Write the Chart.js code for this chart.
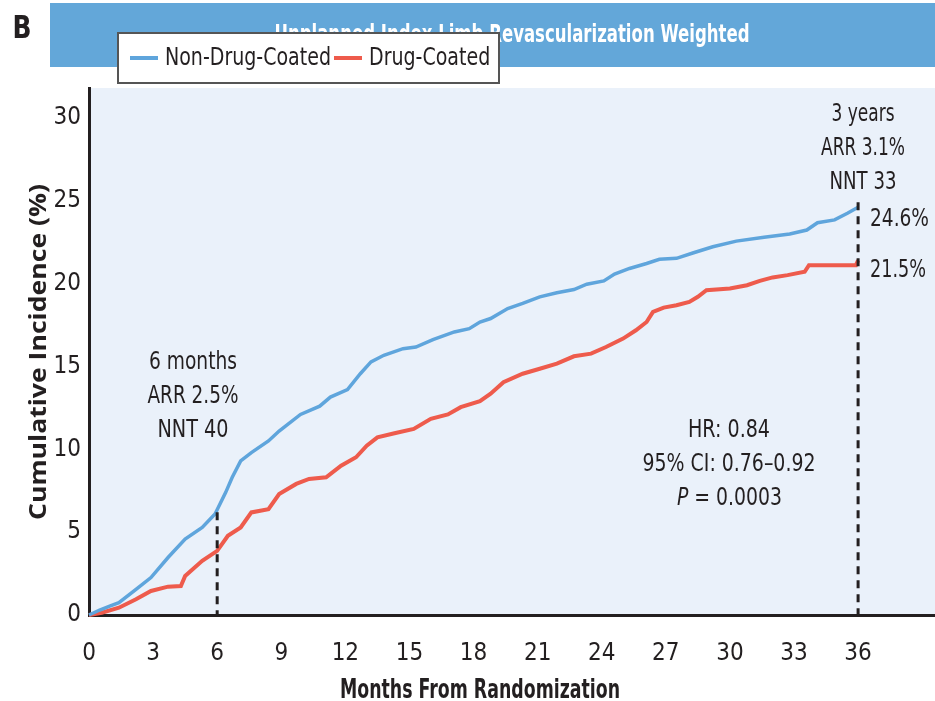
<!DOCTYPE html>
<html>
<head>
<meta charset="utf-8">
<script src="https://cdn.jsdelivr.net/npm/chart.js@4.4.1/dist/chart.umd.min.js"></script>
<style>
  body { margin: 0; background: #fff; }
</style>
</head>
<body>
<canvas id="km" width="935" height="701"></canvas>
<script>
const FONT = '"DejaVu Sans Condensed", "Liberation Sans Narrow", sans-serif';
const WIDE = '"Open Sans", "DejaVu Sans", sans-serif';

const xTicks = [0, 3, 6, 9, 12, 15, 18, 21, 24, 27, 30, 33, 36];
const yTicks = [0, 5, 10, 15, 20, 25, 30];

const seriesLabels = ["Non-Drug-Coated", "Drug-Coated"];

const nonDcMonths = [0, 0.5, 1, 1.4, 2.2, 2.9, 3.7, 4.5, 5.3, 5.9, 6.4, 6.7, 7.1, 7.6, 8.4, 8.9, 9.9, 10.8, 11.3, 12.1, 12.7, 13.2, 13.8, 14.7, 15.3, 16.1, 17.1, 17.8, 18.3, 18.8, 19.6, 20.3, 21.1, 21.9, 22.7, 23.3, 24.1, 24.6, 25.3, 26.1, 26.7, 27.5, 28.3, 29.2, 30.3, 31.6, 32.8, 33.6, 34.1, 34.9, 35.5, 36];
const nonDcPct = [0, 0.3, 0.55, 0.74, 1.55, 2.26, 3.47, 4.58, 5.28, 6.09, 7.4, 8.3, 9.3, 9.8, 10.5, 11.1, 12.1, 12.6, 13.15, 13.6, 14.56, 15.27, 15.67, 16.07, 16.17, 16.62, 17.08, 17.28, 17.68, 17.89, 18.49, 18.8, 19.2, 19.44, 19.64, 19.96, 20.16, 20.57, 20.91, 21.21, 21.46, 21.52, 21.86, 22.22, 22.56, 22.79, 22.99, 23.23, 23.67, 23.84, 24.24, 24.6];

const dcMonths = [0, 0.6, 1.4, 2.2, 2.9, 3.7, 4.3, 4.5, 5.3, 6.0, 6.5, 7.1, 7.6, 8.4, 8.9, 9.7, 10.3, 11.1, 11.8, 12.5, 13.0, 13.5, 14.3, 15.2, 16.0, 16.8, 17.4, 18.3, 18.8, 19.4, 20.3, 21.1, 21.9, 22.7, 23.5, 24.2, 25.0, 25.6, 26.1, 26.4, 26.9, 27.5, 28.1, 28.5, 28.9, 30.0, 30.8, 31.4, 32.0, 32.7, 33.5, 33.7, 35.9, 36];
const dcPct = [0, 0.14, 0.44, 0.95, 1.45, 1.71, 1.75, 2.36, 3.27, 3.87, 4.78, 5.28, 6.19, 6.39, 7.3, 7.91, 8.21, 8.31, 9.01, 9.52, 10.22, 10.72, 10.97, 11.23, 11.84, 12.1, 12.54, 12.9, 13.35, 14.05, 14.56, 14.86, 15.17, 15.61, 15.77, 16.17, 16.68, 17.18, 17.68, 18.29, 18.55, 18.69, 18.89, 19.2, 19.6, 19.7, 19.9, 20.16, 20.37, 20.51, 20.71, 21.11, 21.11, 21.4];

const BLUE = "#5fa5dc";
const RED = "#ee5b4c";
const INK = "#231f20";

const toPoints = (xs, ys) => xs.map((x, i) => ({ x: x, y: ys[i] }));

// squeeze text horizontally to a given width (the original uses a condensed face)
function fitText(ctx, text, x, y, font, width, align) {
  ctx.font = font;
  const s = width / ctx.measureText(text).width;
  ctx.save();
  ctx.translate(x, y);
  ctx.scale(s, 1);
  ctx.textAlign = align || "center";
  ctx.fillText(text, 0, 0);
  ctx.restore();
}

const decor = {
  id: "decor",
  beforeDraw(chart) {
    const { ctx, chartArea: a } = chart;
    ctx.save();
    ctx.fillStyle = "#eaf1fa";
    ctx.fillRect(a.left, a.top, a.right - a.left, a.bottom - a.top);
    ctx.restore();
  },
  afterDraw(chart) {
    const { ctx, scales } = chart;
    const x = scales.x, y = scales.y;
    ctx.save();
    ctx.textBaseline = "alphabetic";

    // dashed lines at 6 months and 3 years
    ctx.strokeStyle = INK;
    ctx.lineWidth = 3;
    ctx.setLineDash([8, 6]);
    const x6 = x.getPixelForValue(6);
    ctx.beginPath();
    ctx.moveTo(x6, y.getPixelForValue(6.2));
    ctx.lineTo(x6, y.getPixelForValue(0));
    ctx.stroke();
    const x36 = x.getPixelForValue(36);
    ctx.beginPath();
    ctx.moveTo(x36, y.getPixelForValue(24.9));
    ctx.lineTo(x36, y.getPixelForValue(0));
    ctx.stroke();
    ctx.setLineDash([]);

    // header band
    ctx.fillStyle = "#63a7d9";
    ctx.fillRect(50, 3, 885, 64);
    ctx.fillStyle = "#fff";
    fitText(ctx, "Unplanned Index Limb Revascularization Weighted", 512, 42, "bold 25px " + FONT, 475);

    // legend
    ctx.fillStyle = "#fff";
    ctx.fillRect(118, 33, 381, 50);
    ctx.strokeStyle = "#555";
    ctx.lineWidth = 2;
    ctx.strokeRect(118, 33, 381, 50);
    ctx.font = "24px " + FONT;
    const ls = 166 / ctx.measureText(chart.data.datasets[0].label).width;
    let lx = 130;
    chart.data.datasets.forEach((ds) => {
      ctx.strokeStyle = ds.borderColor;
      ctx.lineWidth = 4;
      ctx.beginPath();
      ctx.moveTo(lx, 58);
      ctx.lineTo(lx + 28, 58);
      ctx.stroke();
      ctx.fillStyle = INK;
      ctx.font = "24px " + FONT;
      const w = ctx.measureText(ds.label).width * ls;
      fitText(ctx, ds.label, lx + 35, 65, "24px " + FONT, w, "left");
      lx += 35 + w + 3;
    });

    // panel letter
    ctx.fillStyle = INK;
    fitText(ctx, "B", 22, 38, "bold 32px " + FONT, 19);

    // axis titles
    fitText(ctx, "Months From Randomization", 480, 698, "bold 26px " + FONT, 280);
    ctx.save();
    ctx.translate(46, 352);
    ctx.rotate(-Math.PI / 2);
    fitText(ctx, "Cumulative Incidence (%)", 0, 0, "bold 24px " + WIDE, 336);
    ctx.restore();

    // annotations
    const F = "25px " + FONT;
    fitText(ctx, "6 months", 193, 369, F, 88);
    fitText(ctx, "ARR 2.5%", 193, 403, F, 91);
    fitText(ctx, "NNT 40", 193, 437, F, 71);
    fitText(ctx, "3 years", 863, 121, F, 63);
    fitText(ctx, "ARR 3.1%", 863, 155, F, 84);
    fitText(ctx, "NNT 33", 863, 189, F, 67);
    fitText(ctx, "24.6%", 870, 226, F, 59, "left");
    fitText(ctx, "21.5%", 870, 277, F, 56, "left");
    fitText(ctx, "HR: 0.84", 729, 437, F, 82);
    fitText(ctx, "95% CI: 0.76\u20130.92", 729, 471, F, 173);

    // P = 0.0003 with italic P
    ctx.font = "italic " + F;
    const pw = ctx.measureText("P").width;
    ctx.font = F;
    const rw = ctx.measureText(" = 0.0003").width;
    const ps = 105 / (pw + rw);
    ctx.save();
    ctx.translate(677, 505);
    ctx.scale(ps, 1);
    ctx.textAlign = "left";
    ctx.font = "italic " + F;
    ctx.fillText("P", 0, 0);
    ctx.font = F;
    ctx.fillText(" = 0.0003", pw, 0);
    ctx.restore();

    ctx.restore();
  }
};

new Chart(document.getElementById("km").getContext("2d"), {
  type: "line",
  data: {
    datasets: [
      {
        label: seriesLabels[0],
        data: toPoints(nonDcMonths, nonDcPct),
        borderColor: BLUE,
        borderWidth: 3.5,
        pointRadius: 0,
        tension: 0,
        fill: false
      },
      {
        label: seriesLabels[1],
        data: toPoints(dcMonths, dcPct),
        borderColor: RED,
        borderWidth: 4,
        pointRadius: 0,
        tension: 0,
        fill: false
      }
    ]
  },
  options: {
    responsive: false,
    animation: false,
    clip: false,
    layout: { padding: { top: 88, right: 0, left: 0, bottom: 0 } },
    plugins: { legend: { display: false }, tooltip: { enabled: false } },
    scales: {
      x: {
        type: "linear",
        min: 0,
        max: 39.6,
        afterBuildTicks: (s) => { s.ticks = xTicks.map((v) => ({ value: v })); },
        afterFit: (s) => { s.height = 86; },
        grid: { display: false, drawTicks: false },
        border: { color: INK, width: 3 },
        ticks: { color: INK, font: { family: FONT, size: 24 }, padding: 24, maxRotation: 0 }
      },
      y: {
        type: "linear",
        min: 0,
        max: 31.8,
        afterBuildTicks: (s) => { s.ticks = yTicks.map((v) => ({ value: v })); },
        afterFit: (s) => { s.width = 89; },
        grid: { display: false, drawTicks: false },
        border: { color: INK, width: 3 },
        ticks: { color: INK, font: { family: FONT, size: 24 }, padding: 8 }
      }
    }
  },
  plugins: [decor]
});
</script>
</body>
</html>
